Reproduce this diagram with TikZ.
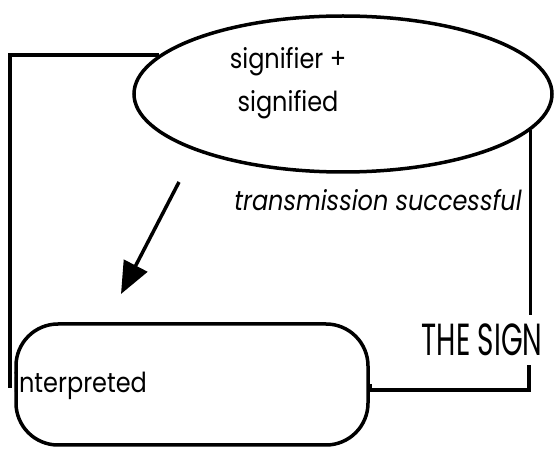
\documentclass[tikz,border=0pt]{standalone}
\usepackage{fontspec}
\setmainfont{Poppins}
\usetikzlibrary{shapes.geometric,arrows.meta}
\begin{document}
\begin{tikzpicture}[x=1pt,y=-1pt,
  thick line/.style={line width=3.5pt},
  lbl/.style={inner sep=0pt,font=\fontsize{24}{28}\selectfont},
]
\useasboundingbox (0,0) rectangle (555,449);
% ellipse
\node[ellipse,draw,thick line,minimum width=418pt,minimum height=156pt,inner sep=0pt] (sig) at (343,94) {};
\node[lbl] (t1) at (288,62) {\scalebox{1}[1.15]{signifier +}};
\node[lbl] (t2) at (288,105) {\scalebox{1}[1.15]{signified}};
% rounded box
\node[draw,thick line,rounded corners=42pt,minimum width=352pt,minimum height=121pt,inner sep=0pt] (box) at (192,384.5) {};
\node[lbl,anchor=west] (interp) at (13,386) {\scalebox{1}[1.15]{interpreted}};
% transmission label
\node[lbl] (trans) at (378,200) {\scalebox{1}[1.15]{\itshape transmission successful}};
% THE SIGN label
\node[inner ysep=9pt,inner xsep=0pt,font=\fontsize{45}{48}\selectfont] (sign) at (482,340) {\scalebox{0.62}[1]{THE SIGN}};
% frame
\coordinate (fl) at (10,388);
\coordinate (rc) at (529,390);
\draw[thick line] (sig.168) -| (fl);
\draw[thick line] (sig.349) -- (sig.349 |- sign.north);
\draw[thick line] (sign.south -| rc) -- (rc) -- (rc -| box.east) -- (box.east);
% arrow
\coordinate (a1) at (179,182);
\coordinate (a2) at (121,294);
\draw[thick line,-{Triangle[length=32pt,width=26pt]}] (a1) -- (a2);
\end{tikzpicture}
\end{document}
